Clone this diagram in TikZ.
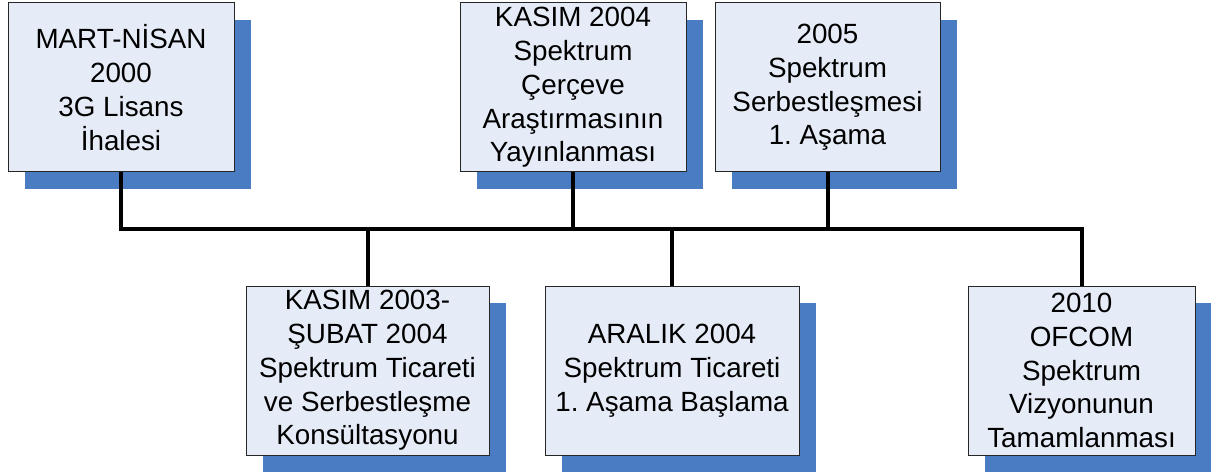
\documentclass[tikz,border=0pt]{standalone}
\usepackage{fontspec}
\setmainfont{Liberation Sans}
\usetikzlibrary{shadows}
\definecolor{boxfill}{HTML}{E6ECF7}
\definecolor{shadowblue}{HTML}{4A7CC3}
\definecolor{boxline}{HTML}{262626}
\frenchspacing
\begin{document}
\begin{tikzpicture}[x=1pt,y=-1pt,
  evbox/.style={draw=boxline, line width=1pt, fill=boxfill, inner sep=0pt,
    align=center, font=\fontsize{27.8}{33.8}\selectfont\frenchspacing,
    drop shadow={shadow xshift=17pt, shadow yshift=-17pt, fill=shadowblue, opacity=1}},
  topbox/.style={evbox, minimum width=226pt, minimum height=169pt},
  botbox/.style={evbox, minimum height=169pt},
  bus/.style={line width=4pt, black}]
\useasboundingbox (0,0) rectangle (1211,476);
\node[topbox] (A) at (121,87.5) {MART-NİSAN\\2000\\3G Lisans\\İhalesi};
\node[topbox] (B) at (573,87.5) {KASIM 2004\\Spektrum\\Çerçeve\\Araştırmasının\\Yayınlanması};
\node[topbox, minimum width=225pt] (C) at (827.5,87.5) {2005\\Spektrum\\Serbestleşmesi\\1. Aşama};
\node[botbox, minimum width=243pt] (D) at (367.5,370.5) {KASIM 2003-\\ŞUBAT 2004\\Spektrum Ticareti\\ve Serbestleşme\\Konsültasyonu};
\node[botbox, minimum width=254pt] (E) at (672,370.5) {ARALIK 2004\\Spektrum Ticareti\\1. Aşama Başlama};
\node[botbox, minimum width=227pt] (F) at (1081.5,370.5) {2010\\OFCOM\\Spektrum\\Vizyonunun\\Tamamlanması};
\coordinate (busmid) at (600,229);
\draw[bus] (A.south) |- (busmid) -| (F.north);
\draw[bus] (B.south) -- (B.south |- busmid);
\draw[bus] (C.south) -- (C.south |- busmid);
\draw[bus] (D.north) -- (D.north |- busmid);
\draw[bus] (E.north) -- (E.north |- busmid);
\end{tikzpicture}
\end{document}
